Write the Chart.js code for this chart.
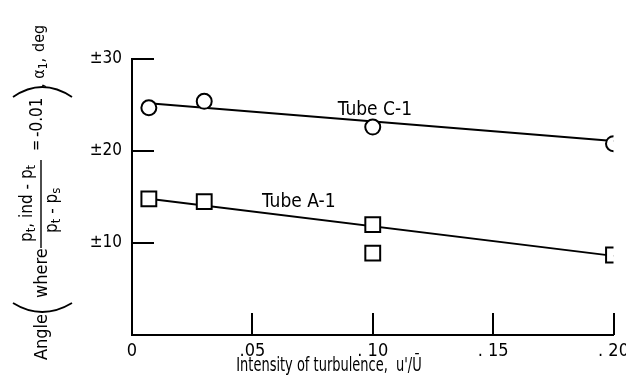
<!DOCTYPE html>
<html>
<head>
<meta charset="utf-8">
<script src="https://cdn.jsdelivr.net/npm/chart.js@4.4.1/dist/chart.umd.min.js"></script>
<style>
  html,body{margin:0;padding:0;background:#fff}
</style>
</head>
<body>
<canvas id="mychart" width="626" height="382"></canvas>
<script>
var FONT="'Liberation Sans Narrow','DejaVu Sans Condensed',sans-serif"

// Tube C-1 (circles)
var c1_x=[0.007,0.03,0.10,0.20]
var c1_y=[24.7,25.4,22.6,20.8]
// Tube A-1 (squares)
var a1_x=[0.007,0.03,0.10,0.10,0.20]
var a1_y=[14.8,14.5,12.0,8.9,8.7]
// faired lines through the points
var c1_line_x=[0.007,0.20]
var c1_line_y=[25.2,21.1]
var a1_line_x=[0.007,0.20]
var a1_line_y=[14.8,8.6]

var x_ticks=[0,0.05,0.10,0.15,0.20]
var x_tick_labels=['0','.05','. 10','. 15','. 20']
var y_ticks=[10,20,30]
var y_tick_labels=['\u00b110','\u00b120','\u00b130']

var series_labels=['Tube C-1','Tube A-1']
var label_x=[0.0855,0.054]
var label_y=[24.5,14.5]

function pts(xs,ys){
  var out=[]
  for(var i=0;i<xs.length;i++) out.push({x:xs[i],y:ys[i]})
  return out
}
function idxOf(arr,v){
  for(var i=0;i<arr.length;i++) if(Math.abs(arr[i]-v)<1e-9) return i
  return -1
}

// draws pieces of text along a line, each piece may have its own size / offset
function drawSeq(ctx,u,v,parts){
  parts.forEach(function(p){
    ctx.font=p.size+'px '+FONT
    ctx.fillText(p.t,u,v+(p.dv||0))
    u+=ctx.measureText(p.t).width
  })
  return u
}

function drawYTitle(ctx){
  ctx.save()
  ctx.translate(0,382)
  ctx.rotate(-Math.PI/2)
  ctx.fillStyle='#000'
  ctx.strokeStyle='#000'
  ctx.textAlign='left'
  ctx.textBaseline='alphabetic'
  drawSeq(ctx,22,47,[{t:'Angle',size:18}])
  ctx.lineWidth=1.8
  ctx.beginPath(); ctx.moveTo(79,13); ctx.quadraticCurveTo(61,42,79,72); ctx.stroke()
  drawSeq(ctx,84,47,[{t:'where',size:18}])
  // fraction
  drawSeq(ctx,140,32,[{t:'p',size:17},{t:'t',size:13,dv:3},{t:', ind',size:17},{t:' - ',size:17},{t:'p',size:17},{t:'t',size:13,dv:3}])
  ctx.lineWidth=1.4
  ctx.beginPath(); ctx.moveTo(134,41); ctx.lineTo(222,41); ctx.stroke()
  drawSeq(ctx,149,57,[{t:'p',size:17},{t:'t',size:13,dv:3},{t:' - ',size:17},{t:'p',size:17},{t:'s',size:13,dv:3}])
  drawSeq(ctx,231,41,[{t:'=',size:15}])
  drawSeq(ctx,245,42,[{t:'-0.01',size:17}])
  ctx.lineWidth=1.8
  ctx.beginPath(); ctx.moveTo(285,13); ctx.quadraticCurveTo(305,42,285,72); ctx.stroke()
  drawSeq(ctx,294,44,[{t:',',size:16},{t:' \u03b1',size:16},{t:'1',size:12,dv:3},{t:', ',size:16}])
  drawSeq(ctx,330,44,[{t:'deg',size:16}])
  ctx.restore()
}

var overlay={
  id:'overlay',
  afterDraw:function(chart){
    var ctx=chart.ctx
    var xs=chart.scales.x, ys=chart.scales.y
    var a=chart.chartArea
    ctx.save()
    ctx.strokeStyle='#000'
    ctx.lineWidth=2
    // inward ticks
    y_ticks.forEach(function(v){
      var py=Math.round(ys.getPixelForValue(v))
      ctx.beginPath(); ctx.moveTo(a.left,py); ctx.lineTo(a.left+22,py); ctx.stroke()
    })
    x_ticks.forEach(function(v){
      if(v===0) return
      var px=Math.round(xs.getPixelForValue(v))
      ctx.beginPath(); ctx.moveTo(px,a.bottom); ctx.lineTo(px,a.bottom-22); ctx.stroke()
    })
    // curve labels
    ctx.fillStyle='#000'
    ctx.font='19px '+FONT
    ctx.textAlign='left'
    ctx.textBaseline='middle'
    series_labels.forEach(function(t,i){
      ctx.fillText(t,xs.getPixelForValue(label_x[i]),ys.getPixelForValue(label_y[i]))
    })
    // x title (narrow lettering)
    ctx.save()
    ctx.translate(329,371)
    ctx.scale(0.76,1)
    ctx.font='19px '+FONT
    ctx.textAlign='center'
    ctx.textBaseline='alphabetic'
    ctx.fillText('Intensity of turbulence,  u\'/\u016a',0,0)
    ctx.restore()
    ctx.restore()
    drawYTitle(ctx)
  }
}

var mychart=document.getElementById('mychart').getContext('2d')
var chart=new Chart(mychart,{
  type:'scatter',
  data:{
    datasets:[
      {
        label:series_labels[0],
        data:pts(c1_x,c1_y),
        pointStyle:'circle',
        pointRadius:7.5,
        borderWidth:2,
        borderColor:'#000',
        backgroundColor:'#fff',
        showLine:false
      },
      {
        label:series_labels[1],
        data:pts(a1_x,a1_y),
        pointStyle:'rect',
        pointRadius:10.5,
        borderWidth:2,
        borderColor:'#000',
        backgroundColor:'#fff',
        showLine:false
      },
      {
        label:'C-1 fit',
        data:pts(c1_line_x,c1_line_y),
        showLine:true,
        pointRadius:0,
        borderColor:'#000',
        borderWidth:2
      },
      {
        label:'A-1 fit',
        data:pts(a1_line_x,a1_line_y),
        showLine:true,
        pointRadius:0,
        borderColor:'#000',
        borderWidth:2
      }
    ]
  },
  options:{
    responsive:false,
    animation:false,
    devicePixelRatio:1,
    layout:{padding:{top:59,right:12,left:0,bottom:0}},
    plugins:{legend:{display:false},tooltip:{enabled:false}},
    scales:{
      x:{
        type:'linear',
        min:0,max:0.2,
        afterBuildTicks:function(s){ s.ticks=x_ticks.map(function(v){return {value:v}}) },
        afterFit:function(s){ s.height=47; s.paddingLeft=0; s.paddingRight=0 },
        grid:{display:false},
        border:{display:true,color:'#000',width:2},
        ticks:{
          color:'#000',
          font:{family:FONT,size:18},
          padding:-2,
          maxRotation:0,
          autoSkip:false,
          callback:function(v){ var i=idxOf(x_ticks,v); return i<0?'':x_tick_labels[i] }
        }
      },
      y:{
        min:0,max:30,
        afterBuildTicks:function(s){ s.ticks=y_ticks.map(function(v){return {value:v}}) },
        afterFit:function(s){ s.width=132 },
        grid:{display:false},
        border:{display:true,color:'#000',width:2},
        ticks:{
          color:'#000',
          font:{family:FONT,size:17},
          padding:2,
          autoSkip:false,
          callback:function(v){ var i=idxOf(y_ticks,v); return i<0?'':y_tick_labels[i] }
        }
      }
    }
  },
  plugins:[overlay]
})
</script>
</body>
</html>
